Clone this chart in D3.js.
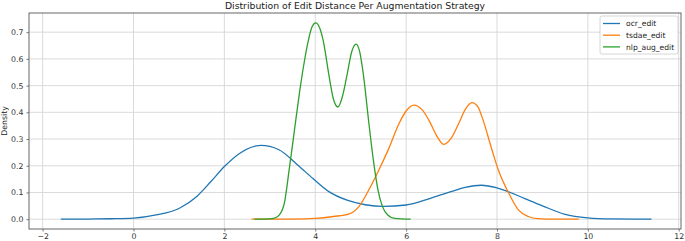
<!DOCTYPE html>
<html>
<head>
<meta charset="utf-8">
<script src="https://cdn.jsdelivr.net/npm/d3@7"></script>
<style>
  body { margin: 0; background: #fff; }
  svg { display: block; font-family: "DejaVu Sans", sans-serif; }
</style>
</head>
<body>
<svg id="chart" width="685" height="241"></svg>
<script>
// KDE curves, [edit distance, density]
const ocrEdit = [[-1.6,0],[-1,0.0005],[-0.5,0.0015],[0,0.004],[0.5,0.016],[1.0,0.04],[1.4,0.086],[1.7,0.14],[2.0,0.197],[2.35,0.248],[2.8,0.276],[3.2,0.26],[3.6,0.205],[3.95,0.152],[4.3,0.103],[4.7,0.071],[5.1,0.054],[5.5,0.048],[6.0,0.053],[6.5,0.076],[7.0,0.104],[7.3,0.119],[7.65,0.127],[8.0,0.117],[8.2,0.106],[8.6,0.078],[9.0,0.05],[9.5,0.018],[10.0,0.005],[10.5,0.001],[11.4,0]];
const tsdaeEdit = [[2.6,0],[3.5,0.0005],[4.0,0.003],[4.4,0.01],[4.75,0.02],[4.96,0.047],[5.18,0.11],[5.4,0.184],[5.62,0.265],[5.85,0.36],[6.0,0.405],[6.17,0.427],[6.35,0.41],[6.5,0.371],[6.68,0.31],[6.83,0.28],[7.0,0.305],[7.16,0.359],[7.3,0.41],[7.45,0.436],[7.58,0.42],[7.67,0.383],[7.89,0.259],[8.03,0.184],[8.26,0.097],[8.47,0.035],[8.69,0.01],[8.9,0.002],[9.3,0],[9.8,0]];
const nlpAugEdit = [[2.66,0],[3.0,0.001],[3.1,0.004],[3.21,0.016],[3.32,0.06],[3.43,0.19],[3.54,0.33],[3.65,0.47],[3.75,0.58],[3.85,0.67],[3.93,0.72],[4.01,0.735],[4.1,0.715],[4.18,0.665],[4.3,0.54],[4.4,0.45],[4.5,0.42],[4.6,0.46],[4.7,0.54],[4.8,0.625],[4.9,0.655],[4.98,0.625],[5.06,0.54],[5.18,0.36],[5.28,0.22],[5.38,0.11],[5.48,0.047],[5.6,0.015],[5.75,0.003],[6.1,0]];

const seriesNames = ["ocr_edit", "tsdae_edit", "nlp_aug_edit"];
const seriesColors = ["#1f77b4", "#ff7f0e", "#2ca02c"];
const xTicks = [-2, 0, 2, 4, 6, 8, 10, 12];
const yTicks = [0, 0.1, 0.2, 0.3, 0.4, 0.5, 0.6, 0.7];
const title = "Distribution of Edit Distance Per Augmentation Strategy";

const margin = {top: 13, right: 4, bottom: 12, left: 29};
const width = 685, height = 241;
const svg = d3.select("#chart");

const x = d3.scaleLinear().domain([-2.3, 12.05]).range([margin.left, width - margin.right]);
const y = d3.scaleLinear().domain([-0.0368, 0.7718]).range([height - margin.bottom, margin.top]);

// grid
svg.append("g").selectAll("line").data(xTicks).join("line")
  .attr("x1", d => x(d)).attr("x2", d => x(d))
  .attr("y1", y.range()[0]).attr("y2", y.range()[1])
  .attr("stroke", "#d6d6d6").attr("stroke-width", 0.9);
svg.append("g").selectAll("line").data(yTicks).join("line")
  .attr("y1", d => y(d)).attr("y2", d => y(d))
  .attr("x1", x.range()[0]).attr("x2", x.range()[1])
  .attr("stroke", "#d6d6d6").attr("stroke-width", 0.9);

// axes
const xAxis = svg.append("g")
  .attr("transform", `translate(0,${y.range()[0]})`)
  .call(d3.axisBottom(x).tickValues(xTicks).tickSize(2.5).tickPadding(2)
    .tickFormat(d => d < 0 ? "\u2212" + Math.abs(d) : d));
const yAxis = svg.append("g")
  .attr("transform", `translate(${x.range()[0]},0)`)
  .call(d3.axisLeft(y).tickValues(yTicks).tickSize(2.5).tickPadding(3).tickFormat(d3.format(".1f")));
for (const g of [xAxis, yAxis]) {
  g.select(".domain").remove();
  g.selectAll(".tick line").attr("stroke", "#555").attr("stroke-width", 0.8);
  g.selectAll(".tick text").attr("fill", "#333").style("font-size", "7.8px").style("font-family", "DejaVu Sans");
}

// lines
const line = d3.line().x(d => x(d[0])).y(d => y(d[1])).curve(d3.curveMonotoneX);
[ocrEdit, tsdaeEdit, nlpAugEdit].forEach((s, i) => {
  svg.append("path").datum(s)
    .attr("fill", "none")
    .attr("stroke", seriesColors[i])
    .attr("stroke-width", 1.3)
    .attr("d", line);
});

// frame
svg.append("rect")
  .attr("x", x.range()[0]).attr("y", y.range()[1])
  .attr("width", x.range()[1] - x.range()[0]).attr("height", y.range()[0] - y.range()[1])
  .attr("fill", "none").attr("stroke", "#666").attr("stroke-width", 1);

// title + y label
svg.append("text")
  .attr("x", (x.range()[0] + x.range()[1]) / 2).attr("y", 9)
  .attr("text-anchor", "middle").style("font-size", "9.3px").attr("fill", "#222")
  .text(title);
svg.append("text")
  .attr("transform", `translate(7,${(y.range()[0] + y.range()[1]) / 2}) rotate(-90)`)
  .attr("text-anchor", "middle").style("font-size", "7.8px").attr("fill", "#222")
  .text("Density");

// legend
const lg = svg.append("g").attr("transform", "translate(600,16)");
lg.append("rect").attr("width", 78).attr("height", 38).attr("rx", 2)
  .attr("fill", "#fff").attr("fill-opacity", 0.85).attr("stroke", "#ccc").attr("stroke-width", 0.8);
seriesNames.forEach((n, i) => {
  const yy = 7.5 + i * 11.7;
  lg.append("line").attr("x1", 3).attr("x2", 20).attr("y1", yy).attr("y2", yy)
    .attr("stroke", seriesColors[i]).attr("stroke-width", 1.3);
  lg.append("text").attr("x", 26).attr("y", yy + 2.8).style("font-size", "7.6px").attr("fill", "#222").text(n);
});
</script>
</body>
</html>
